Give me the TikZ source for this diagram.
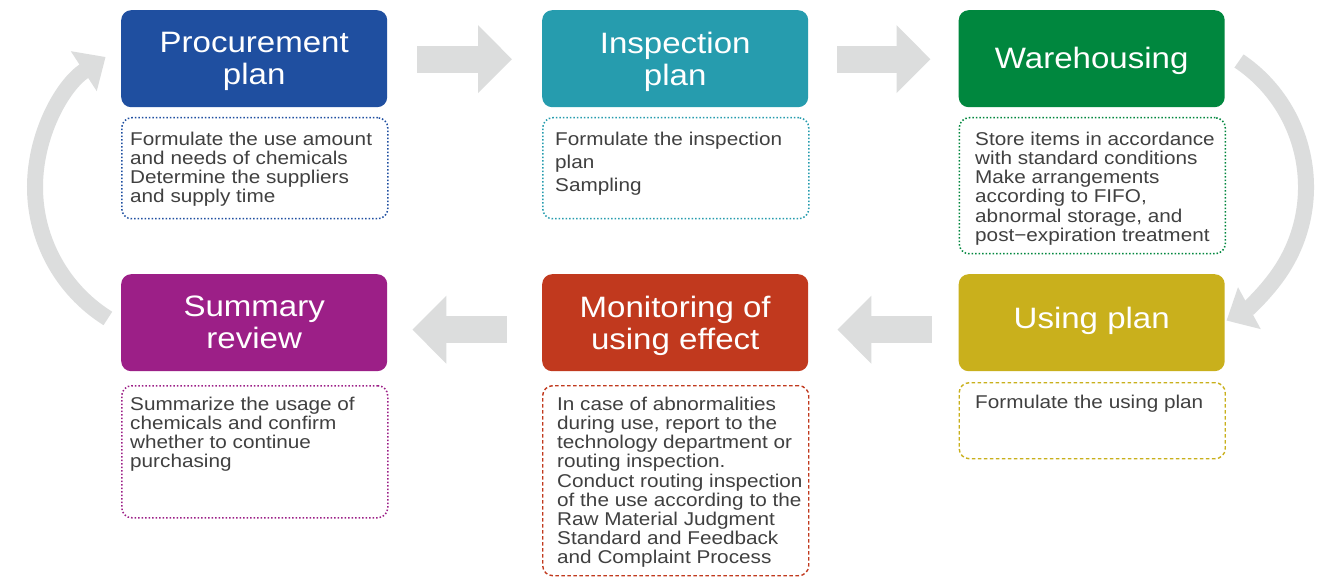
\documentclass[tikz,border=0pt]{standalone}
\usepackage{fontspec}
\setmainfont{Liberation Sans}
\newfontfamily\stretchf[FakeStretch=1.12]{Liberation Sans}
\usetikzlibrary{arrows.meta}
\definecolor{cproc}{RGB}{31,79,160}
\definecolor{cinsp}{RGB}{38,156,174}
\definecolor{cware}{RGB}{0,135,62}
\definecolor{csumm}{RGB}{156,31,135}
\definecolor{cmon}{RGB}{193,57,30}
\definecolor{cuse}{RGB}{201,176,28}
\definecolor{cgray}{RGB}{220,221,221}
\definecolor{ctext}{RGB}{64,64,64}
\begin{document}
\begin{tikzpicture}[x=1pt,y=-1pt,
  hdrbox/.style={rounded corners=10pt, minimum width=266pt, minimum height=97pt, anchor=north west, inner sep=0pt, draw=none},
  hdrtext/.style={text=white, font=\stretchf\fontsize{29.5}{32}\selectfont, align=center, anchor=north, inner sep=0pt},
  dotbox/.style={rounded corners=10pt, minimum width=266pt, anchor=north west, line width=1.5pt, dash pattern=on 1.5pt off 2pt, inner sep=0pt},
  dashbox/.style={rounded corners=10pt, minimum width=266pt, anchor=north west, line width=1.4pt, dash pattern=on 3.5pt off 2.5pt, inner sep=0pt},
  bodytext/.style={text=ctext, font=\stretchf\fontsize{18.5}{19.2}\selectfont, align=left, anchor=north west, inner sep=0pt},
  blockarrow/.style={draw=cgray, line width=27pt, -{Triangle[length=34pt,width=66pt]}},
  ringarrow/.style={draw=cgray, line width=16pt, -{Triangle[length=26pt,width=46pt]}}
]
\fill[white] (0,0) rectangle (1325,577);
\useasboundingbox (0,0) rectangle (1325,577);

% header boxes
\node[hdrbox, fill=cproc] (proc) at (121,10) {};
\node[hdrbox, fill=cinsp] (insp) at (542,10) {};
\node[hdrbox, fill=cware] (ware) at (958.5,10) {};
\node[hdrbox, fill=csumm] (summ) at (121,274) {};
\node[hdrbox, fill=cmon] (mon) at (542,274) {};
\node[hdrbox, fill=cuse] (use) at (958.5,274) {};

\node[hdrtext] (proct) at ([shift={(0,22.5)}]proc.north) {Procurement\\plan};
\node[hdrtext] (inspt) at ([shift={(0,22)}]insp.north) {Inspection\\plan};
\node[hdrtext] (waret) at ([shift={(0,37)}]ware.north) {Warehousing};
\node[hdrtext] (summt) at ([shift={(0,21.5)}]summ.north) {Summary\\review};
\node[hdrtext] (mont) at ([shift={(0,21.5)}]mon.north) {Monitoring of\\using effect};
\node[hdrtext] (uset) at ([shift={(0,33)}]use.north) {Using plan};

% description boxes
\node[dotbox, draw=cproc, minimum height=101pt] (procd) at (121,117) {};
\node[dotbox, draw=cinsp, minimum height=101pt] (inspd) at (542,117) {};
\node[dotbox, draw=cware, minimum height=136pt] (wared) at (958.5,117) {};
\node[dotbox, draw=csumm, minimum height=132pt] (summd) at (121,385) {};
\node[dashbox, draw=cmon, minimum height=190pt] (mond) at (542,385) {};
\node[dashbox, draw=cuse, minimum height=76pt] (used) at (958.5,382) {};

\node[bodytext] (procb) at ([shift={(9,14.7)}]procd.north west) {Formulate the use amount\\and needs of chemicals\\Determine the suppliers\\and supply time};
\node[bodytext, font=\stretchf\fontsize{18.5}{23.2}\selectfont] (inspb) at ([shift={(13,14.7)}]inspd.north west) {Formulate the inspection\\plan\\Sampling};
\node[bodytext] (wareb) at ([shift={(16.5,14.7)}]wared.north west) {Store items in accordance\\with standard conditions\\Make arrangements\\according to FIFO,\\abnormal storage, and\\post−expiration treatment};
\node[bodytext] (summb) at ([shift={(9,11.7)}]summd.north west) {Summarize the usage of\\chemicals and confirm\\whether to continue\\purchasing};
\node[bodytext] (monb) at ([shift={(15,11.7)}]mond.north west) {In case of abnormalities\\during use, report to the\\technology department or\\routing inspection.\\Conduct routing inspection\\of the use according to the\\Raw Material Judgment\\Standard and Feedback\\and Complaint Process};
\node[bodytext] (useb) at ([shift={(16.5,13)}]used.north west) {Formulate the using plan};

% straight block arrows
\draw[blockarrow] ([shift={(30,0.5)}]proc.east) -- ([shift={(-30,0.5)}]insp.west);
\draw[blockarrow] ([shift={(29,0.5)}]insp.east) -- ([shift={(-28,0.5)}]ware.west);
\draw[blockarrow] ([shift={(-35,7)}]mon.west) -- ([shift={(25,7)}]summ.east);
\draw[blockarrow] ([shift={(-27,7)}]use.west) -- ([shift={(29,7)}]mon.east);

% ring arrows
\coordinate (rc) at (1154,187);
\coordinate (lc) at (190,187);
\draw[ringarrow] ([shift={(-56:152)}]rc) arc[start angle=-56, end angle=61.5, radius=152];
\draw[ringarrow] ([shift={(122:155)}]lc) arc[start angle=122, end angle=237, radius=155];
\end{tikzpicture}
\end{document}
